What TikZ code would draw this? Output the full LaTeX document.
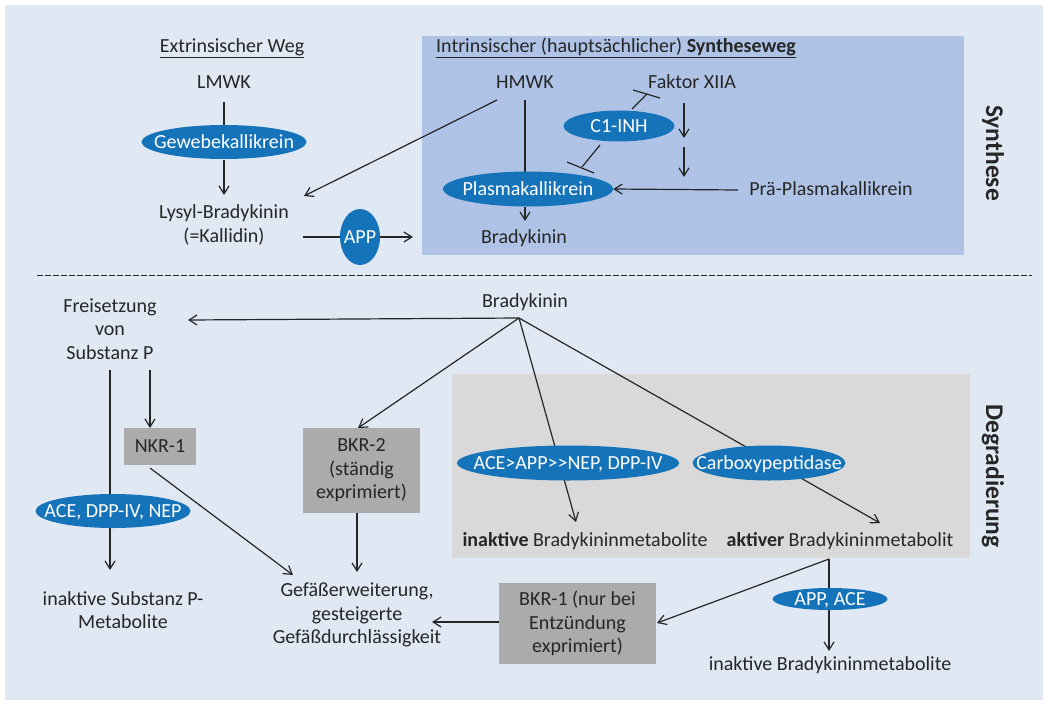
\documentclass[tikz,border=0pt]{standalone}
\usepackage{fontspec}
\setmainfont{Carlito}
\usetikzlibrary{shapes.geometric,arrows.meta}
\definecolor{bgblue}{HTML}{DFE8F3}
\definecolor{boxblue}{HTML}{AEC3E6}
\definecolor{boxgray}{HTML}{D9D9D9}
\definecolor{recgray}{HTML}{ABABAB}
\definecolor{ellblue}{HTML}{1573B9}
\definecolor{txt}{HTML}{262626}
\pgfdeclarelayer{back}
\pgfdeclarelayer{lines}
\pgfsetlayers{back,lines,main}
\begin{document}
\begin{tikzpicture}[x=1pt,y=-1pt, font=\fontsize{20}{23.5}\selectfont, text=txt,
  lbl/.style={align=center, inner sep=1pt},
  enz/.style={ellipse, fill=ellblue, text=white, inner sep=0pt,
    text height=13pt, text depth=0pt,
    execute at begin node={\hbox to 0pt\bgroup\hss},
    execute at end node={\hss\egroup}},
  rec/.style={fill=recgray, align=center, inner sep=0pt},
  ln/.style={draw=txt, line width=1.2pt},
  arr/.style={ln, -{Straight Barb[length=8pt,width=10pt]}},
  side/.style={rotate=-90, inner sep=1pt, font=\fontsize{25.5}{28}\selectfont\bfseries}]

\useasboundingbox (0,0) rectangle (1048,704);
\begin{pgfonlayer}{back}
\fill[bgblue] (5,5) rectangle (1043,700);
\fill[boxblue] (422,36) rectangle (964,255);
\fill[boxgray] (452,374) rectangle (970,558);
\draw[txt, line width=1pt, dash pattern=on 5.5pt off 2.5pt] (37,275) -- (1032,275);
\end{pgfonlayer}

% ---------- Synthese ----------
\node[lbl] (extT) at (232,48) {\underline{Extrinsischer Weg}};
\node[lbl] (lmwk) at (224,82) {LMWK};
\node[enz, minimum width=165pt, minimum height=34pt] (gewebe) at (224,142) {Gewebekallikrein};
\node[lbl] (lysyl) at (224,225) {Lysyl-Bradykinin\\(=Kallidin)};
\node[enz, minimum width=40pt, minimum height=56pt] (app) at (360,237) {APP};

\node[lbl, anchor=west] (intT) at (435,48) {\underline{Intrinsischer (hauptsächlicher) \textbf{Syntheseweg}}};
\node[lbl] (hmwk) at (525,82) {HMWK};
\node[lbl] (f12) at (692,82) {Faktor XIIA};
\node[enz, minimum width=111pt, minimum height=31pt] (c1) at (619,126) {C1-INH};
\node[enz, minimum width=170pt, minimum height=35pt] (pk) at (528,189) {Plasmakallikrein};
\node[lbl] (bk1) at (524,238) {Bradykinin};
\node[lbl] (ppk) at (831,189) {Prä-Plasmakallikrein};

\node[side] (syn) at (993,153) {Synthese};
\node[side] (deg) at (993,476) {Degradierung};

% ---------- Degradierung ----------
\node[lbl] (frei) at (110,329) {Freisetzung\\von\\Substanz P};
\node[lbl] (bk2) at (525,302) {Bradykinin};
\node[rec, minimum width=72pt, minimum height=37pt] (nkr) at (160,446.5) {NKR-1};
\node[rec, minimum width=117pt, minimum height=85pt] (bkr2) at (361.5,470.5) {BKR-2\\(ständig\\exprimiert)};
\node[enz, minimum width=155pt, minimum height=34pt] (acesp) at (113,511) {ACE, DPP-IV, NEP};
\node[lbl] (inSP) at (123,610) {inaktive Substanz P-\\Metabolite};
\node[lbl] (gef) at (357,615) {Gefäßerweiterung,\\gesteigerte\\Gefäßdurchlässigkeit};
\node[rec, minimum width=157pt, minimum height=81pt] (bkr1) at (577.5,623.5) {BKR-1 (nur bei\\Entzündung\\exprimiert)};
\node[enz, minimum width=222pt, minimum height=35pt] (aceapp) at (568,463) {ACE>APP>{}>NEP, DPP-IV};
\node[enz, minimum width=153pt, minimum height=35pt] (carb) at (769,463) {Carboxypeptidase};
\node[lbl] (inBK) at (585,541) {\textbf{inaktive} Bradykininmetabolite};
\node[lbl] (akBK) at (840,541) {\textbf{aktiver} Bradykininmetabolit};
\node[enz, minimum width=115pt, minimum height=22pt] (appace) at (830,599) {APP, ACE};
\node[lbl] (inBK2) at (830,665) {inaktive Bradykininmetabolite};

% ---------- connector end points ----------
\coordinate (lmwkS) at (224,102);
\coordinate (gewS) at (224,160);
\coordinate (lysN) at (224,195);
\coordinate (lysE) at (303,237);
\coordinate (appE) at (413,237);
\coordinate (hmwkSW) at (497,100);
\coordinate (lysNE) at (304,196);
\coordinate (hmwkS) at (525,100);
\coordinate (pkN) at (525,173);
\coordinate (pkS) at (525,207);
\coordinate (bk1N) at (525,221);
\coordinate (f12S) at (684,103);
\coordinate (f12A) at (684,138);
\coordinate (f12B) at (684,147);
\coordinate (f12C) at (684,177);
\coordinate (ppkW) at (738,190);
\coordinate (c1a) at (632,109);
\coordinate (c1b) at (647,94);
\coordinate (bar1a) at (633,90);
\coordinate (bar1b) at (660,98);
\coordinate (c1c) at (600,145);
\coordinate (c1d) at (582,167);
\coordinate (bar2a) at (567,162);
\coordinate (bar2b) at (594,173);

\coordinate (hub) at (519,318);
\coordinate (freiE) at (188,320);
\coordinate (bkr2N) at (358,428);
\coordinate (inBKN) at (576,522);
\coordinate (akBKN) at (880,523);
\coordinate (freiS1) at (110,370);
\coordinate (inSPN) at (110,570);
\coordinate (freiS2) at (150,370);
\coordinate (nkrN) at (150,428);
\coordinate (nkrS) at (150,468);
\coordinate (gefNW) at (293,575);
\coordinate (bkr2S) at (357,513);
\coordinate (gefN) at (357,572);
\coordinate (bkr1W) at (499,622);
\coordinate (gefE) at (432,622);
\coordinate (corner) at (829,559);
\coordinate (bkr1E) at (657,623);
\coordinate (inBK2N) at (829,651);

\begin{pgfonlayer}{lines}
\draw[ln] (lmwkS) -- (gewebe);
\draw[arr] (gewS) -- (lysN);
\draw[arr] (lysE) -- (appE);
\draw[arr] (hmwkSW) -- (lysNE);
\draw[ln] (hmwkS) -- (pkN);
\draw[arr] (pkS) -- (bk1N);
\draw[arr] (f12S) -- (f12A);
\draw[arr] (f12B) -- (f12C);
\draw[arr] (ppkW) -- (pk.east);
\draw[ln] (c1a) -- (c1b);
\draw[ln] (bar1a) -- (bar1b);
\draw[ln] (c1c) -- (c1d);
\draw[ln] (bar2a) -- (bar2b);

\draw[arr] (hub) -- (freiE);
\draw[arr] (hub) -- (bkr2N);
\draw[arr] (hub) -- (inBKN);
\draw[arr] (hub) -- (akBKN);
\draw[arr] (freiS1) -- (inSPN);
\draw[arr] (freiS2) -- (nkrN);
\draw[arr] (nkrS) -- (gefNW);
\draw[arr] (bkr2S) -- (gefN);
\draw[arr] (bkr1W) -- (gefE);
\draw[arr] (corner) -- (bkr1E);
\draw[arr] (corner) -- (inBK2N);
\end{pgfonlayer}
\end{tikzpicture}
\end{document}
